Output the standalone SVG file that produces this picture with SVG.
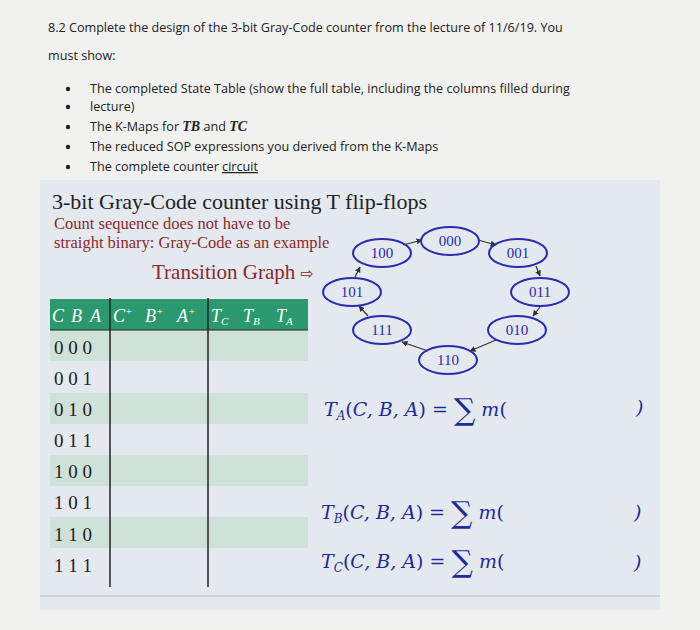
<svg xmlns="http://www.w3.org/2000/svg" width="700" height="630" viewBox="0 0 700 630">
<defs>
<marker id="ah" viewBox="0 0 10 10" refX="9" refY="5" markerWidth="5" markerHeight="5" orient="auto"><path d="M0,0L10,5L0,10z" fill="#333"/></marker>
<style>
.t{font-family:"Open Sans","Liberation Sans",sans-serif;font-size:12.6px;fill:#222}
.s{font-family:"Liberation Serif",serif;fill:#222}
.r{font-family:"Liberation Serif",serif;fill:#8a2a2a;font-size:16.5px}
.n ellipse{fill:none;stroke:#2b2bb0;stroke-width:2}
.n text{font-family:"Liberation Serif",serif;font-size:15px;fill:#2b2bb0;text-anchor:middle}
.h{font-family:"Liberation Serif",serif;font-style:italic;font-size:18px;fill:#fff}
.d{font-family:"Liberation Serif",serif;font-size:19px;fill:#222}
.m{font-family:"DejaVu Serif","Liberation Serif",serif;font-style:italic;font-size:19px;fill:#1f2a9a}
</style>
</defs>
<rect width="700" height="630" fill="#f1f1ef"/>
<rect x="40" y="180" width="620" height="430" fill="#e3e9ee"/>
<text class="t" x="48" y="32">8.2 Complete the design of the 3-bit Gray-Code counter from the lecture of 11/6/19. You</text>
<text class="t" x="48" y="60">must show:</text>
<g class="t">
<circle cx="68" cy="89" r="2.2" fill="#222"/><text x="90" y="93">The completed State Table (show the full table, including the columns filled during</text>
<circle cx="68" cy="107" r="2.2" fill="#222"/><text x="90" y="111">lecture)</text>
<circle cx="68" cy="127" r="2.2" fill="#222"/><text x="90" y="131">The K-Maps for <tspan font-family="Liberation Serif" font-style="italic" font-weight="bold" font-size="14">TB</tspan> and <tspan font-family="Liberation Serif" font-style="italic" font-weight="bold" font-size="14">TC</tspan></text>
<circle cx="68" cy="147" r="2.2" fill="#222"/><text x="90" y="151">The reduced SOP expressions you derived from the K-Maps</text>
<circle cx="68" cy="167" r="2.2" fill="#222"/><text x="90" y="171">The complete counter <tspan text-decoration="underline">circuit</tspan></text>
</g>
<text class="s" x="52" y="209" font-size="22">3-bit Gray-Code counter using T flip-flops</text>
<text class="r" x="54" y="229">Count sequence does not have to be</text>
<text class="r" x="54" y="248">straight binary:  Gray-Code as an example</text>
<text class="r" x="152" y="279" style="font-size:21px">Transition Graph <tspan font-family="DejaVu Sans" style="font-size:16px">⇨</tspan></text>
<g id="table">
<rect x="50" y="299" width="258" height="31" fill="#2a9a6e"/>
<g fill="#cfe2da"><rect x="50" y="330" width="258" height="31"/><rect x="50" y="393" width="258" height="31"/><rect x="50" y="455" width="258" height="31"/><rect x="50" y="517" width="258" height="31"/></g>
<line x1="110" y1="298" x2="110" y2="587" stroke="#222" stroke-width="1.5"/>
<line x1="208" y1="298" x2="208" y2="587" stroke="#222" stroke-width="1.5"/>
<line x1="50" y1="330" x2="308" y2="330" stroke="#222" stroke-width="1"/>
<text class="h" x="52" y="322">C</text><text class="h" x="71" y="322">B</text><text class="h" x="90" y="322">A</text>
<text class="h" x="113" y="322">C<tspan font-size="11" dy="-7">+</tspan></text>
<text class="h" x="145" y="322">B<tspan font-size="11" dy="-7">+</tspan></text>
<text class="h" x="177" y="322">A<tspan font-size="11" dy="-7">+</tspan></text>
<text class="h" x="211" y="322">T<tspan font-size="11" dy="3">C</tspan></text>
<text class="h" x="243" y="322">T<tspan font-size="11" dy="3">B</tspan></text>
<text class="h" x="276" y="322">T<tspan font-size="11" dy="3">A</tspan></text>
<g class="d">
<text x="54" y="354">0 0 0</text><text x="54" y="385">0 0 1</text><text x="54" y="416">0 1 0</text><text x="54" y="447">0 1 1</text>
<text x="54" y="478">1 0 0</text><text x="54" y="509">1 0 1</text><text x="54" y="541">1 1 0</text><text x="54" y="572">1 1 1</text>
</g>
</g>
<line x1="40" y1="596" x2="660" y2="596" stroke="#bbb"/>
<g id="connectors" stroke="#333" stroke-width="1.2" marker-end="url(#ah)">
<line x1="403" y1="245" x2="422" y2="240"/>
<line x1="478" y1="240" x2="496" y2="245"/>
<line x1="536" y1="266" x2="540" y2="276"/>
<line x1="540" y1="307" x2="533" y2="316"/>
<line x1="496" y1="340" x2="470" y2="351"/>
<line x1="428" y1="351" x2="402" y2="342"/>
<line x1="368" y1="316" x2="359" y2="306"/>
<line x1="355" y1="277" x2="360" y2="267"/>
</g>
<g id="n000" class="n"><ellipse cx="450" cy="241" rx="29" ry="14"/><text x="450" y="246">000</text></g>
<g id="n100" class="n"><ellipse cx="382" cy="253" rx="29" ry="14"/><text x="382" y="258">100</text></g>
<g id="n001" class="n"><ellipse cx="518" cy="253" rx="29" ry="14"/><text x="518" y="258">001</text></g>
<g id="n101" class="n"><ellipse cx="352" cy="292" rx="29" ry="14"/><text x="352" y="297">101</text></g>
<g id="n011" class="n"><ellipse cx="540" cy="292" rx="29" ry="14"/><text x="540" y="297">011</text></g>
<g id="n111" class="n"><ellipse cx="382" cy="330" rx="29" ry="14"/><text x="382" y="335">111</text></g>
<g id="n010" class="n"><ellipse cx="517" cy="330" rx="29" ry="14"/><text x="517" y="335">010</text></g>
<g id="n110" class="n"><ellipse cx="448" cy="360" rx="29" ry="14"/><text x="448" y="365">110</text></g>
<text class="m" x="324" y="416">T<tspan font-size="12" dy="4">A</tspan><tspan dy="-4" font-style="normal">(</tspan>C, B, A<tspan font-style="normal">) = </tspan><tspan font-style="normal" font-size="30" dy="4">∑</tspan><tspan dy="-4"> m</tspan><tspan font-style="normal">(</tspan></text>
<text class="m" x="636" y="414" font-style="normal">)</text>
<text class="m" x="321" y="519">T<tspan font-size="12" dy="4">B</tspan><tspan dy="-4" font-style="normal">(</tspan>C, B, A<tspan font-style="normal">) = </tspan><tspan font-style="normal" font-size="30" dy="4">∑</tspan><tspan dy="-4"> m</tspan><tspan font-style="normal">(</tspan></text>
<text class="m" x="634" y="519" font-style="normal">)</text>
<text class="m" x="321" y="568">T<tspan font-size="12" dy="4">C</tspan><tspan dy="-4" font-style="normal">(</tspan>C, B, A<tspan font-style="normal">) = </tspan><tspan font-style="normal" font-size="30" dy="4">∑</tspan><tspan dy="-4"> m</tspan><tspan font-style="normal">(</tspan></text>
<text class="m" x="634" y="569" font-style="normal">)</text>
</svg>
